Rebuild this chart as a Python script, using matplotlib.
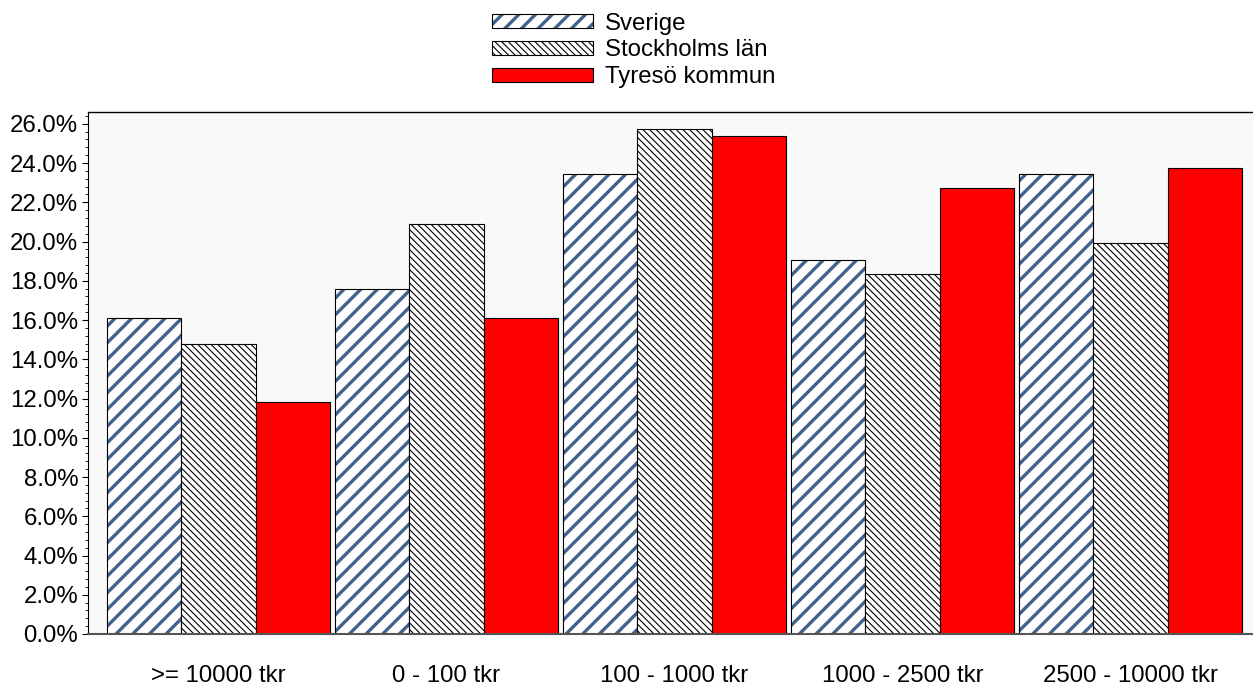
import matplotlib.pyplot as plt
import matplotlib.patches as mpatches
import numpy as np
from matplotlib.ticker import MultipleLocator, AutoMinorLocator, FuncFormatter

plt.rcParams['font.family'] = ['Liberation Sans', 'DejaVu Sans']

categories = ['>= 10000 tkr', '0 - 100 tkr', '100 - 1000 tkr', '1000 - 2500 tkr', '2500 - 10000 tkr']
sverige = [16.1, 17.6, 23.45, 19.05, 23.45]
stockholm = [14.8, 20.9, 25.75, 18.35, 19.9]
tyreso = [11.8, 16.1, 25.4, 22.75, 23.75]

fig = plt.figure(figsize=(12.53, 6.87), dpi=100)
ax = fig.add_axes([88 / 1253, 1 - 634 / 687, 1 - 88 / 1253, (634 - 112) / 687])
ax.set_facecolor('#f9f9f9')

x = np.arange(len(categories))
w = 0.326

plt.rcParams['hatch.linewidth'] = 2.4
b1 = ax.bar(x - w, sverige, w, color='white', edgecolor='#41628c', hatch='//', linewidth=0)
e1 = ax.bar(x - w, sverige, w, color='none', edgecolor='black', linewidth=0.8)
plt.rcParams['hatch.linewidth'] = 0.8
b2 = ax.bar(x, stockholm, w, color='white', edgecolor='black', hatch='\\' * 5, linewidth=0.8)
b3 = ax.bar(x + w, tyreso, w, color='#ff0000', edgecolor='black', linewidth=0.8)
for p in b1:
    if hasattr(p, 'set_hatch_linewidth'):
        p.set_hatch_linewidth(2.4)
for p in b2:
    if hasattr(p, 'set_hatch_linewidth'):
        p.set_hatch_linewidth(0.8)

ax.set_xlim(-0.572, 4.537)
ax.set_ylim(0, 26.6)
ax.yaxis.set_major_locator(MultipleLocator(2))
ax.yaxis.set_minor_locator(AutoMinorLocator(5))
ax.yaxis.set_major_formatter(FuncFormatter(lambda v, p: f'{v:.1f}%'))
ax.set_xticks(x)
ax.set_xticklabels(categories)
ax.tick_params(axis='x', length=0, pad=22, labelsize=17.3)
ax.tick_params(axis='y', which='major', length=4, labelsize=17.3, pad=3)
ax.tick_params(axis='y', which='minor', length=2)

ax.spines['right'].set_visible(False)
ax.spines['bottom'].set_color('#555555')
ax.spines['bottom'].set_linewidth(1.5)
ax.spines['top'].set_linewidth(1.0)

leg = fig.legend([(b1[0], e1[0]), b2[0], b3[0]], ['Sverige', 'Stockholms län', 'Tyresö kommun'],
                 loc='upper center', bbox_to_anchor=(0.5056, 1.013), frameon=False, fontsize=17.3,
                 handlelength=4.2, handleheight=0.5, labelspacing=0.2, handletextpad=0.5)
for r in leg.findobj(mpatches.Rectangle):
    if r.get_hatch() == '//' and hasattr(r, 'set_hatch_linewidth'):
        r.set_hatch_linewidth(2.4)

fig.savefig('out.png', dpi=100)
